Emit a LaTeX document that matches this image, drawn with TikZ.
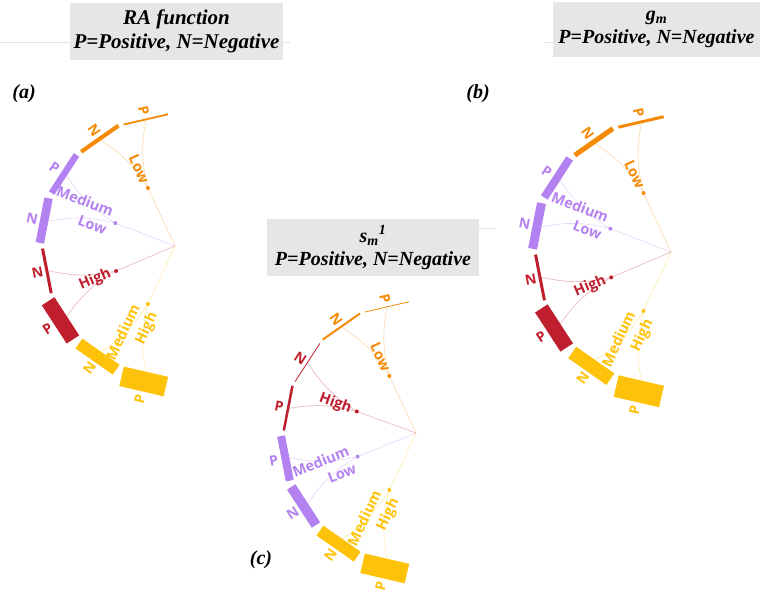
\documentclass[tikz,border=0pt]{standalone}
\usepackage{fontspec}
\setmainfont{Liberation Serif}
\newfontfamily\lblfont{Open Sans}
\usepackage{xcolor}
\usepackage{tikz}
\usetikzlibrary{calc}
\definecolor{raOrange}{HTML}{F58A07}
\definecolor{raPurple}{HTML}{B482F0}
\definecolor{raRed}{HTML}{BE1E2D}
\definecolor{raGold}{HTML}{FFC20A}
\definecolor{raBox}{HTML}{E6E6E6}
\definecolor{raGuide}{HTML}{E2E2E2}

\begin{document}
\begin{tikzpicture}[x=1pt,y=1pt,
  titlebox/.style={rectangle,fill=raBox,align=center,inner sep=0pt,font=\fontsize{20}{23}\selectfont\bfseries\itshape},
  panellabel/.style={inner sep=0pt,font=\fontsize{20}{22}\selectfont\bfseries\itshape},
  seglabel/.style={inner sep=0pt,font=\lblfont\bfseries\fontsize{14}{15}\selectfont},
  catlabel/.style={inner sep=0pt,align=right,font=\lblfont\bfseries\fontsize{14.5}{19}\selectfont},
  catdot/.style={circle,inner sep=0pt,minimum size=4pt},
  link/.style={line width=0.7pt,opacity=0.3},
  guide/.style={draw=raGuide,line width=0.8pt}
]
\useasboundingbox (0,0) rectangle (767,-597);

% faint rules behind the titles
\draw[guide] (0,-42) -- (290,-42);
\draw[guide] (545,-42) -- (560,-42);
\draw[guide] (470,-228) -- (495,-228);

% titles
\node[titlebox,minimum width=213,minimum height=57,font=\fontsize{21}{24}\selectfont\bfseries\itshape] (titleA) at (176.5,-31.5) {RA function\\P=Positive, N=Negative};
\node[titlebox,minimum width=207,minimum height=55] (titleB) at (656.5,-29.5) {g\textsubscript{m}\\P=Positive, N=Negative};
\node[titlebox,minimum width=212,minimum height=57] (titleC) at (373,-247.5) {s\textsubscript{m}\textsuperscript{1}\\P=Positive, N=Negative};
\node[panellabel] (capA) at (24,-94) {(a)};
\node[panellabel] (capB) at (478,-94) {(b)};
\node[panellabel] (capC) at (261,-560) {(c)};

% (a) RA function
\coordinate (hubA) at (175,-246);
\foreach \k/\col/\thk/\lab in {0/raOrange/1.8/P,1/raOrange/4/N,2/raPurple/6.5/P,3/raPurple/8.5/N,4/raRed/3/N,5/raRed/15/P,6/raGold/12/N,7/raGold/20/P}{
  \pgfmathsetmacro\aS{93+22*\k}
  \pgfmathsetmacro\aE{\aS+20}
  \pgfmathsetmacro\aM{\aS+10}
  \fill[\col] ($(hubA)+(\aS:131)$) -- ($(hubA)+(\aE:131)$) -- ++(\aM:\thk) -- ($(hubA)+(\aS:131)+(\aM:\thk)$) -- cycle;
  \coordinate (segA\k) at ($(hubA)+(\aM:129)$);
  \node[seglabel,text=\col,rotate=\aM-180] (labA\k) at ($(hubA)+(\aM:137+\thk)$) {\lab};
}
\foreach \g/\ka/\kb/\col/\a/\txt in {1/0/1/raOrange/115/Low,2/2/3/raPurple/159/{Medium\\Low},3/4/5/raRed/203/High,4/6/7/raGold/245/{Medium\\High}}{
  \node[catdot,fill=\col] (dotA\g) at ($(hubA)+(\a:64)$) {};
  \draw[link,draw=\col] (hubA) -- (dotA\g);
  \draw[link,draw=\col] (dotA\g) to[bend left=12] (segA\ka);
  \draw[link,draw=\col] (dotA\g) to[bend right=12] (segA\kb);
  \node[catlabel,text=\col,rotate=\a-180,anchor=east] (catA\g) at ($(hubA)+(\a:70)$) {\txt};
}

% (b) g_m
\coordinate (hubB) at (671,-252);
\foreach \k/\col/\thk/\lab in {0/raOrange/3/P,1/raOrange/5/N,2/raPurple/8/P,3/raPurple/9/N,4/raRed/3/N,5/raRed/15/P,6/raGold/14/N,7/raGold/22/P}{
  \pgfmathsetmacro\aS{93+22*\k}
  \pgfmathsetmacro\aE{\aS+20}
  \pgfmathsetmacro\aM{\aS+10}
  \fill[\col] ($(hubB)+(\aS:134)$) -- ($(hubB)+(\aE:134)$) -- ++(\aM:\thk) -- ($(hubB)+(\aS:134)+(\aM:\thk)$) -- cycle;
  \coordinate (segB\k) at ($(hubB)+(\aM:132)$);
  \node[seglabel,text=\col,rotate=\aM-180] (labB\k) at ($(hubB)+(\aM:140+\thk)$) {\lab};
}
\foreach \g/\ka/\kb/\col/\a/\txt in {1/0/1/raOrange/115/Low,2/2/3/raPurple/159/{Medium\\Low},3/4/5/raRed/203/High,4/6/7/raGold/245/{Medium\\High}}{
  \node[catdot,fill=\col] (dotB\g) at ($(hubB)+(\a:65)$) {};
  \draw[link,draw=\col] (hubB) -- (dotB\g);
  \draw[link,draw=\col] (dotB\g) to[bend left=12] (segB\ka);
  \draw[link,draw=\col] (dotB\g) to[bend right=12] (segB\kb);
  \node[catlabel,text=\col,rotate=\a-180,anchor=east] (catB\g) at ($(hubB)+(\a:71)$) {\txt};
}

% (c) s_m^1
\coordinate (hubC) at (416,-433);
\foreach \k/\col/\thk/\lab in {0/raOrange/0.8/P,1/raOrange/2/N,2/raRed/0.8/N,3/raRed/2.5/P,4/raPurple/8/P,5/raPurple/10/N,6/raGold/12/N,7/raGold/20/P}{
  \pgfmathsetmacro\aS{93+22*\k}
  \pgfmathsetmacro\aE{\aS+20}
  \pgfmathsetmacro\aM{\aS+10}
  \fill[\col] ($(hubC)+(\aS:131)$) -- ($(hubC)+(\aE:131)$) -- ++(\aM:\thk) -- ($(hubC)+(\aS:131)+(\aM:\thk)$) -- cycle;
  \coordinate (segC\k) at ($(hubC)+(\aM:129)$);
  \node[seglabel,text=\col,rotate=\aM-180] (labC\k) at ($(hubC)+(\aM:137+\thk)$) {\lab};
}
\foreach \g/\ka/\kb/\col/\a/\txt in {1/0/1/raOrange/115/Low,2/2/3/raRed/160/High,3/4/5/raPurple/202/{Medium\\Low},4/6/7/raGold/245/{Medium\\High}}{
  \node[catdot,fill=\col] (dotC\g) at ($(hubC)+(\a:63)$) {};
  \draw[link,draw=\col] (hubC) -- (dotC\g);
  \draw[link,draw=\col] (dotC\g) to[bend left=12] (segC\ka);
  \draw[link,draw=\col] (dotC\g) to[bend right=12] (segC\kb);
  \node[catlabel,text=\col,rotate=\a-180,anchor=east] (catC\g) at ($(hubC)+(\a:69)$) {\txt};
}
\end{tikzpicture}
\end{document}
